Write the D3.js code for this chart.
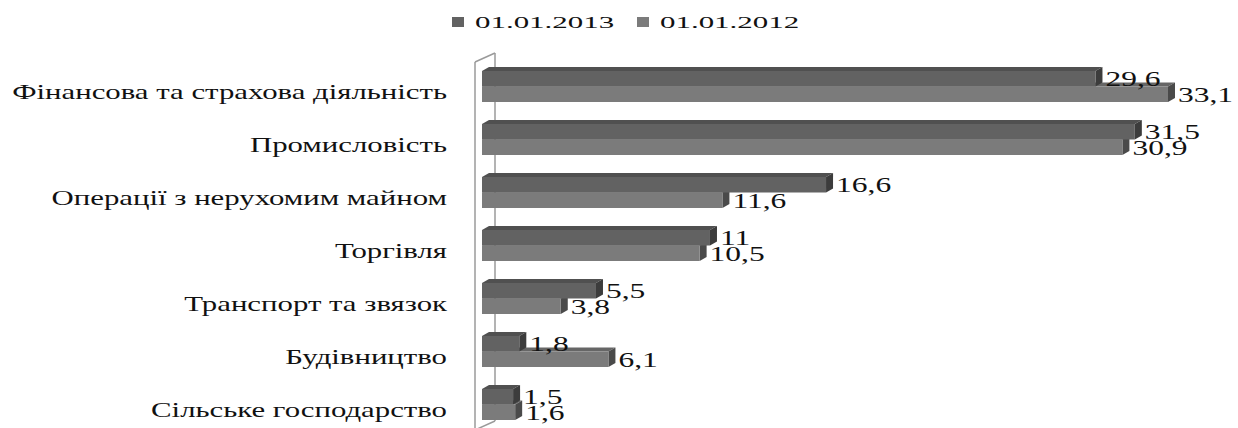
<!DOCTYPE html>
<html>
<head>
    <meta charset="utf-8" />
    <title>3D bars</title>
    <script src="https://d3js.org/d3.v7.min.js"></script>
    <style>
        body { margin: 0; background: #fff; }
    </style>
</head>
<body>
    <svg id="chart" width="1238" height="428"></svg>

    <script>
        var categories = [
            "Фінансова та страхова діяльність",
            "Промисловість",
            "Операції з нерухомим майном",
            "Торгівля",
            "Транспорт та звязок",
            "Будівництво",
            "Сільське господарство"
        ];
        var seriesNames = ["01.01.2013", "01.01.2012"];
        var values2013 = [29.6, 31.5, 16.6, 11, 5.5, 1.8, 1.5];
        var values2012 = [33.1, 30.9, 11.6, 10.5, 3.8, 6.1, 1.6];

        var svg = d3.select("#chart");

        // colours: front, top, end
        var faces = [
            { front: "#626262", top: "#505050", side: "#3c3c3c" },
            { front: "#7b7b7b", top: "#666666", side: "#4a4a4a" }
        ];

        var x = d3.scaleLinear().domain([0, 33.1]).range([482, 1168]);
        var y = d3.scaleBand().domain(categories).range([60, 431]).paddingInner(0.42).paddingOuter(0.21);
        var barH = 15.5, dx = 7, dy = 4;

        // the original text is stretched horizontally
        function stretchText(g, px, py, str, size, sx, anchor) {
            g.append("g")
                .attr("transform", "translate(" + px + "," + py + ") scale(" + sx + ",1)")
                .append("text")
                .attr("font-family", "Liberation Serif")
                .attr("font-size", size)
                .attr("fill", "#111")
                .attr("text-anchor", anchor || "start")
                .text(str);
        }

        // back wall
        var wall = svg.append("g").attr("fill", "none").attr("stroke", "#9a9a9a").attr("stroke-width", 1.5);
        wall.append("line").attr("x1", 475).attr("y1", 62).attr("x2", 475).attr("y2", 430);
        wall.append("line").attr("x1", 475).attr("y1", 62).attr("x2", 495).attr("y2", 53);
        wall.append("line").attr("x1", 495).attr("y1", 53).attr("x2", 495).attr("y2", 421);
        wall.append("line").attr("x1", 475).attr("y1", 430).attr("x2", 495).attr("y2", 421);

        var rows = categories.map(function (c, i) {
            return { cat: c, v: [values2013[i], values2012[i]] };
        });

        var groups = svg.selectAll("g.row").data(rows).enter().append("g").attr("class", "row");

        groups.each(function (d) {
            var g = d3.select(this);
            var mid = y(d.cat) + y.bandwidth() / 2;
            // 2012 first (lower), then 2013 over it
            [1, 0].forEach(function (s) {
                var y0 = mid - barH + s * barH;
                var x0 = x(0), x1 = x(d.v[s]);
                var f = faces[s];
                g.append("polygon")
                    .attr("points", [[x0, y0], [x0 + dx, y0 - dy], [x1 + dx, y0 - dy], [x1, y0]].join(" "))
                    .attr("fill", f.top);
                g.append("polygon")
                    .attr("points", [[x1, y0], [x1 + dx, y0 - dy], [x1 + dx, y0 + barH - dy], [x1, y0 + barH]].join(" "))
                    .attr("fill", f.side);
                g.append("rect")
                    .attr("x", x0).attr("y", y0)
                    .attr("width", x1 - x0).attr("height", barH)
                    .attr("fill", f.front);
            });
            [0, 1].forEach(function (s) {
                var y0 = mid - barH + s * barH;
                stretchText(g, x(d.v[s]) + dx + 3, y0 + barH - 0.5, String(d.v[s]).replace(".", ","), 21, 1.5, "start");
            });
            stretchText(g, 447, mid + 12, d.cat, 22, 1.4, "end");
        });

        // legend
        var legend = svg.append("g");
        var legX = [452, 637];
        seriesNames.forEach(function (n, i) {
            legend.append("rect")
                .attr("x", legX[i]).attr("y", 17).attr("width", 12).attr("height", 10)
                .attr("fill", faces[i].front);
            stretchText(legend, legX[i] + 23, 28, n, 17, 1.82, "start");
        });
    </script>
</body>
</html>
